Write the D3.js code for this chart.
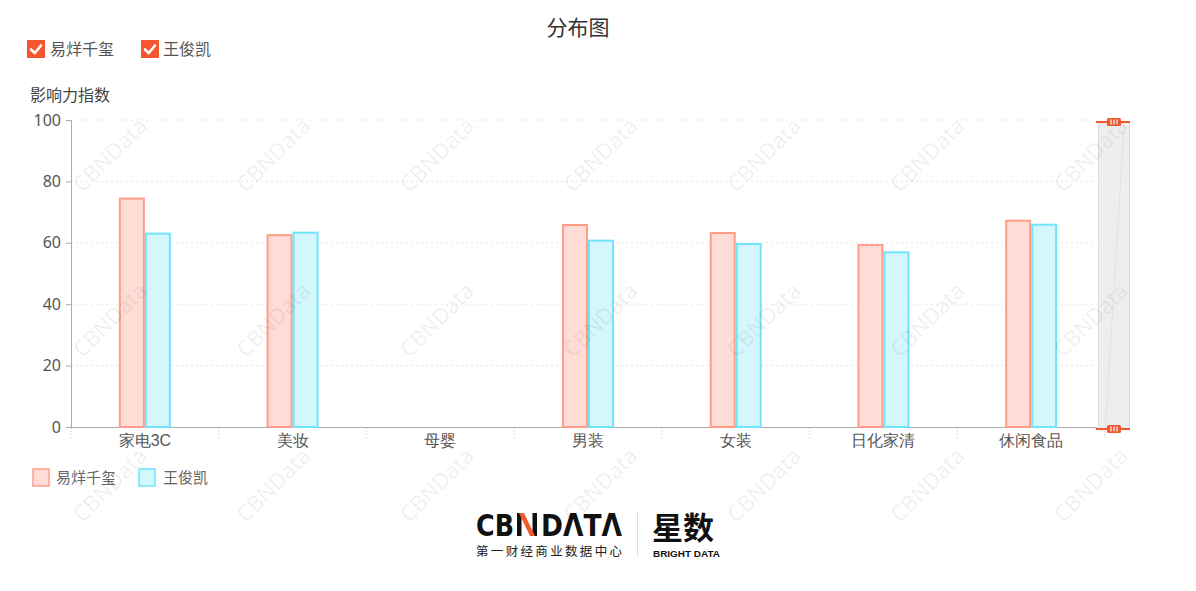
<!DOCTYPE html>
<html>
<head>
<meta charset="utf-8">
<script src="https://cdn.jsdelivr.net/npm/d3@7.9.0/dist/d3.min.js"></script>
<style>
  body { margin: 0; background: #fff; }
  svg { display: block; font-family: "Noto Sans CJK SC", "Noto Sans", sans-serif; }
</style>
</head>
<body>
<svg id="chart" width="1196" height="591"></svg>
<script>
// data
const categories = ['家电3C', '美妆', '母婴', '男装', '女装', '日化家清', '休闲食品'];
const seriesNames = ['易烊千玺', '王俊凯'];
const yiValues = [74.4, 62.5, null, 65.8, 63.2, 59.3, 67.2];
const wangValues = [63.0, 63.3, null, 60.7, 59.6, 56.9, 65.9];
const yTicks = [0, 20, 40, 60, 80, 100];

const seriesValues = [yiValues, wangValues];
const fills = ['#ffdcd6', '#d3f7fd'];
const strokes = ['#ff9d88', '#6fe4fa'];

const svg = d3.select('#chart');
const plotLeft = 71, plotRight = 1105, plotTop = 120, plotBottom = 427;

const x = d3.scaleBand().domain(categories).range([plotLeft, plotRight]);
const barW = 26;
const x1 = d3.scaleBand().domain(seriesNames).range([-barW, barW]);
const y = d3.scaleLinear().domain([0, 100]).range([plotBottom, plotTop]);

// title
svg.append('text')
  .attr('x', 578).attr('y', 35)
  .attr('text-anchor', 'middle')
  .attr('font-size', 21).attr('fill', '#333')
  .text('分布图');

// top legend with checkboxes
const topLegend = [{ x: 27, tx: 50 }, { x: 141, tx: 163 }];
seriesNames.forEach((name, i) => {
  const g = svg.append('g').attr('transform', `translate(${topLegend[i].x},40)`);
  g.append('rect').attr('width', 18).attr('height', 18).attr('fill', '#f4572f');
  g.append('path')
    .attr('d', 'M4,9.5 L7.8,13 L14,5.5')
    .attr('fill', 'none').attr('stroke', '#fff').attr('stroke-width', 2.6)
    .attr('stroke-linecap', 'round').attr('stroke-linejoin', 'round');
  svg.append('text')
    .attr('x', topLegend[i].tx).attr('y', 55)
    .attr('font-size', 16).attr('fill', '#555')
    .text(name);
});

// y axis name
svg.append('text')
  .attr('x', 30).attr('y', 101)
  .attr('font-size', 16).attr('fill', '#444')
  .text('影响力指数');

// grid lines
svg.append('g')
  .selectAll('line')
  .data(yTicks.filter(d => d > 0))
  .join('line')
  .attr('x1', plotLeft).attr('x2', 1097)
  .attr('y1', d => y(d)).attr('y2', d => y(d))
  .attr('stroke', '#e3e3e3').attr('stroke-dasharray', '2,3');

// y axis
const yAxis = svg.append('g')
  .attr('transform', `translate(${plotLeft},0)`)
  .call(d3.axisLeft(y).tickValues(yTicks).tickSize(5).tickPadding(5));
yAxis.select('.domain').attr('stroke', '#aaa');
yAxis.selectAll('.tick line').attr('stroke', '#aaa');
yAxis.selectAll('.tick text')
  .attr('font-size', 16).attr('fill', '#555')
  .attr('font-family', '"Noto Sans", sans-serif');

// x axis
const xAxis = svg.append('g')
  .attr('transform', `translate(0,${plotBottom})`)
  .call(d3.axisBottom(x).tickSize(0).tickPadding(8));
xAxis.select('.domain').attr('stroke', '#aaa').attr('d', `M${plotLeft},0.5H1097`);
xAxis.selectAll('.tick text').attr('font-size', 16).attr('fill', '#555');
// boundary ticks between categories
svg.append('g')
  .selectAll('line')
  .data(categories.concat(['__end']))
  .join('line')
  .attr('x1', (d, i) => plotLeft + i * x.step())
  .attr('x2', (d, i) => plotLeft + i * x.step())
  .attr('y1', plotBottom + 1).attr('y2', plotBottom + 11)
  .attr('stroke', '#ccc').attr('stroke-dasharray', '1,2');

// bars
seriesNames.forEach((name, s) => {
  svg.append('g')
    .selectAll('rect')
    .data(categories.map((c, i) => ({ c, v: seriesValues[s][i] })).filter(d => d.v != null))
    .join('rect')
    .attr('x', d => x(d.c) + x.bandwidth() / 2 + x1(name) + 1)
    .attr('y', d => y(d.v))
    .attr('width', x1.bandwidth() - 2)
    .attr('height', d => y(0) - y(d.v))
    .attr('fill', fills[s])
    .attr('stroke', strokes[s]).attr('stroke-width', 2);
});

// bottom legend
const botLegend = [{ x: 33, tx: 56 }, { x: 139, tx: 163 }];
seriesNames.forEach((name, i) => {
  svg.append('rect')
    .attr('x', botLegend[i].x).attr('y', 469)
    .attr('width', 16).attr('height', 17)
    .attr('fill', fills[i]).attr('stroke', strokes[i]).attr('stroke-width', 1.5);
  svg.append('text')
    .attr('x', botLegend[i].tx).attr('y', 483)
    .attr('font-size', 15).attr('fill', '#666')
    .text(name);
});

// dataZoom slider on the right
const sl = svg.append('g');
sl.append('rect')
  .attr('x', 1098.5).attr('y', 122.5).attr('width', 31).attr('height', 306)
  .attr('fill', '#efeeee').attr('stroke', '#dddcdc');
sl.append('line')
  .attr('x1', 1105).attr('y1', 436).attr('x2', 1124).attr('y2', 127)
  .attr('stroke', '#e4e0e0').attr('stroke-width', 1);
[122, 429].forEach(hy => {
  sl.append('line')
    .attr('x1', 1096).attr('x2', 1130).attr('y1', hy).attr('y2', hy)
    .attr('stroke', '#f4572f').attr('stroke-width', 2);
  sl.append('rect')
    .attr('x', 1107).attr('y', hy - 4).attr('width', 14).attr('height', 8)
    .attr('rx', 1.5).attr('fill', '#f4572f');
  [1111, 1114, 1117].forEach(lx => {
    sl.append('line')
      .attr('x1', lx).attr('x2', lx).attr('y1', hy - 2.5).attr('y2', hy + 2.5)
      .attr('stroke', '#fff').attr('stroke-width', 1.2);
  });
});

// watermarks
const wm = svg.append('g').attr('pointer-events', 'none');
for (let j = 0; j < 3; j++) {
  for (let i = 0; i < 7; i++) {
    const cx = 110 + i * 163.5, cy = 155 + j * 165;
    wm.append('text')
      .attr('transform', `translate(${cx},${cy}) rotate(-45)`)
      .attr('text-anchor', 'middle').attr('dy', '0.35em')
      .attr('font-size', 22).attr('font-family', '"Noto Sans", sans-serif')
      .attr('fill', '#000').attr('fill-opacity', 0.07)
      .text('CBNData');
  }
}

// logo
const logo = svg.append('g');
logo.append('text')
  .attr('x', 476).attr('y', 536)
  .attr('font-size', 31).attr('font-weight', 'bold')
  .attr('font-family', '"DejaVu Sans", sans-serif').attr('fill', '#111')
  .attr('textLength', 38).attr('lengthAdjust', 'spacingAndGlyphs')
  .text('CB');
logo.append('rect').attr('x', 517).attr('y', 513).attr('width', 4.5).attr('height', 23).attr('fill', '#111');
logo.append('rect').attr('x', 532.5).attr('y', 513).attr('width', 4.5).attr('height', 23).attr('fill', '#111');
logo.append('path').attr('d', 'M519,513 L524,513 L535,536 L530,536 Z').attr('fill', '#f15a24');
logo.append('text')
  .attr('x', 541).attr('y', 536)
  .attr('font-size', 31).attr('font-weight', 'bold')
  .attr('font-family', '"DejaVu Sans", sans-serif').attr('fill', '#111')
  .attr('textLength', 81).attr('lengthAdjust', 'spacingAndGlyphs')
  .text('DΛTΛ');
logo.append('text')
  .attr('x', 476).attr('y', 556)
  .attr('font-size', 12.5).attr('fill', '#222')
  .attr('textLength', 146).attr('lengthAdjust', 'spacing')
  .text('第一财经商业数据中心');
logo.append('line')
  .attr('x1', 637.5).attr('x2', 637.5).attr('y1', 512).attr('y2', 557)
  .attr('stroke', '#ddd');
logo.append('text')
  .attr('x', 652).attr('y', 539)
  .attr('font-size', 31).attr('font-weight', 'bold').attr('fill', '#111')
  .text('星数');
logo.append('text')
  .attr('x', 653).attr('y', 557)
  .attr('font-size', 9.5).attr('font-weight', 'bold').attr('fill', '#111')
  .attr('font-family', '"Liberation Sans", sans-serif')
  .attr('textLength', 67).attr('lengthAdjust', 'spacingAndGlyphs')
  .text('BRIGHT DATA');
</script>
</body>
</html>
